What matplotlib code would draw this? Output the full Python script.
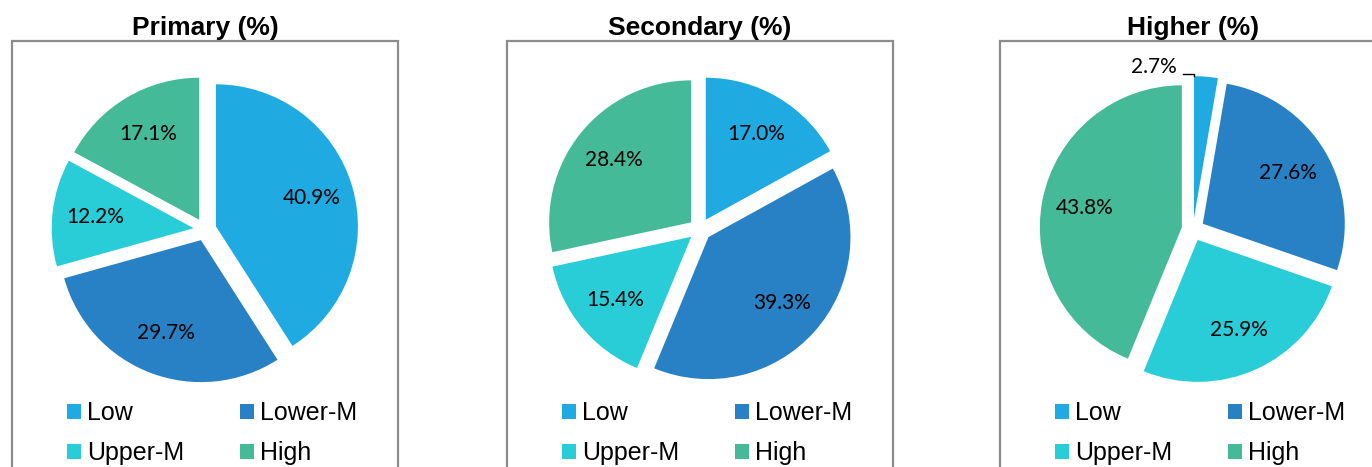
import matplotlib
matplotlib.use("Agg")
import matplotlib.pyplot as plt
from matplotlib.patches import Rectangle, Patch
import numpy as np

# data
titles = ["Primary (%)", "Secondary (%)", "Higher (%)"]
categories = ["Low", "Lower-M", "Upper-M", "High"]
primary = [40.9, 29.7, 12.2, 17.1]
secondary = [17.0, 39.3, 15.4, 28.4]
higher = [2.7, 27.6, 25.9, 43.8]
series = [primary, secondary, higher]

colors = ["#1FABE2", "#2881C5", "#29CDD7", "#45BA98"]

W, H = 1372, 467
fig = plt.figure(figsize=(W / 100, H / 100), dpi=100)

centers_x = [205, 700, 1193]
center_y = 229.5
R_PX = 142.0
LIM = 1.25
box_w = 386
box_top = 41

def fx(x):
    return x / W

def fy(y):
    return 1 - y / H

# legend fills column by column, so reorder to read row by row
order = [0, 2, 1, 3]

for i, (title, vals) in enumerate(zip(titles, series)):
    cx = centers_x[i]

    # panel frame (runs off the bottom of the image)
    fig.add_artist(Rectangle((fx(cx - box_w / 2), fy(H + 40)), box_w / W, (H + 40 - box_top) / H,
                             transform=fig.transFigure, fill=False,
                             edgecolor="#8C8C8C", linewidth=1.6, clip_on=False))
    fig.text(fx(cx), fy(35), title, ha="center", va="baseline",
             fontsize=19, fontweight="bold", family="Liberation Sans")

    side = 2 * LIM * R_PX
    ax = fig.add_axes([fx(cx - side / 2), fy(center_y + side / 2), side / W, side / H])
    total = sum(vals)
    wedges, texts, autotexts = ax.pie(
        vals, colors=colors, startangle=90, counterclock=False,
        explode=[0.08] * len(vals), radius=1,
        autopct=lambda p, t=total: f"{p * t / 100:.1f}%" if p * t / 100 >= 5 else "",
        pctdistance=0.7, wedgeprops=dict(linewidth=0),
        textprops=dict(family="Lato", fontsize=15, color="black"))
    ax.set_xlim(-LIM, LIM)
    ax.set_ylim(-LIM, LIM)
    ax.set_aspect("equal")
    ax.axis("off")

    # small slices get an outside label with a short leader line
    for w, v in zip(wedges, vals):
        if v < 5:
            ang = np.deg2rad(w.theta2)
            x0 = w.center[0] + w.r * np.cos(ang)
            y0 = w.center[1] + w.r * np.sin(ang)
            ax.plot([x0 - 0.08, x0, x0], [y0 + 0.012, y0 + 0.012, y0],
                    color="black", linewidth=1, clip_on=False)
            ax.text(x0 - 0.12, y0 + 0.025, f"{v:.1f}%", ha="right", va="baseline",
                    family="Lato", fontsize=15)

    handles = [Patch(facecolor=colors[k], edgecolor="none") for k in order]
    labels = [categories[k] for k in order]
    ax.legend(handles, labels, ncol=2, loc="upper left",
              bbox_to_anchor=(fx(cx - 138), fy(401)), bbox_transform=fig.transFigure,
              frameon=False, borderpad=0, borderaxespad=0,
              prop=dict(family="Liberation Sans", size=18),
              handlelength=0.56, handleheight=0.56, handletextpad=0.24,
              columnspacing=2.24, labelspacing=0.64)

fig.savefig("out.png", dpi=100)
